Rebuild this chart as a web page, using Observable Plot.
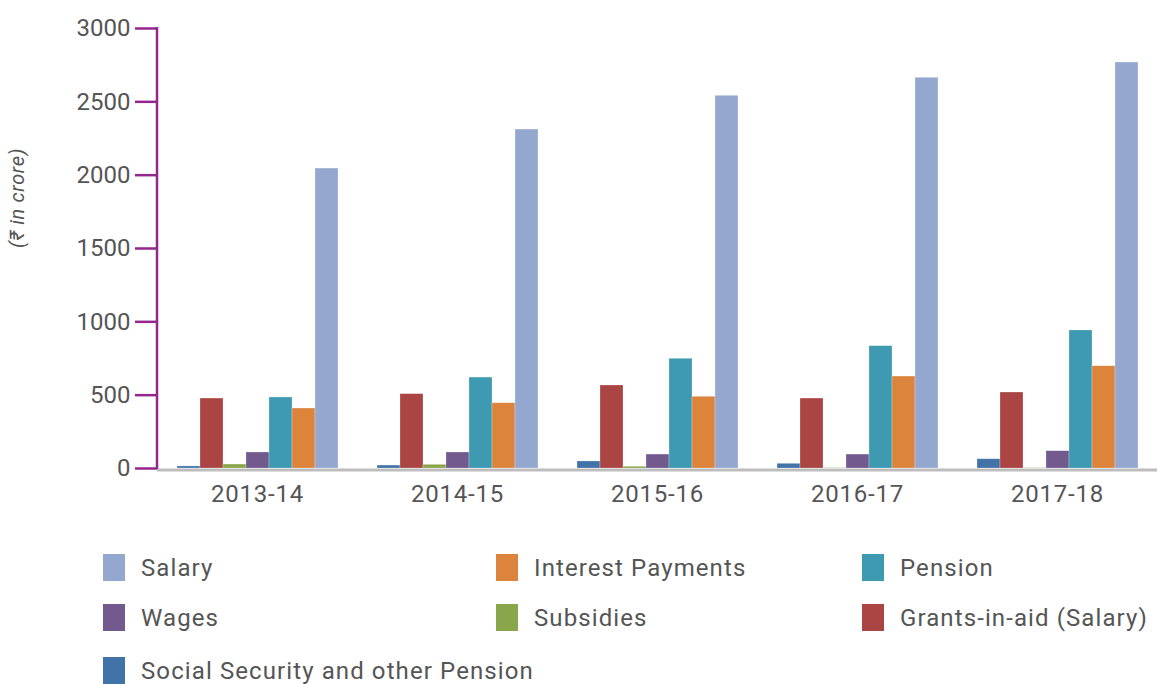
<!DOCTYPE html>
<html>
<head>
<meta charset="utf-8">
<script src="https://cdn.jsdelivr.net/npm/d3@7"></script>
<script src="https://cdn.jsdelivr.net/npm/@observablehq/plot@0.6"></script>
<style>
  body { margin: 0; background: #fff; font-family: Roboto, "Noto Sans", sans-serif; }
  #legend { display: grid; grid-template-columns: 393px 366px auto; row-gap: 23px; padding-left: 103px; margin-top: 34px; }
  .item { display: flex; align-items: center; height: 27px; color: #555; font-size: 24px; letter-spacing: 1.1px; white-space: nowrap; }
  .item.last { margin-top: 3px; }
  .sw { width: 22px; height: 27px; margin-right: 16px; flex: none; }
  svg text { letter-spacing: 0.8px; }
</style>
</head>
<body>
<div id="chart"></div>
<div id="legend"></div>
<script>
const years = ["2013-14", "2014-15", "2015-16", "2016-17", "2017-18"];
const seriesOrder = ["Social Security and other Pension", "Grants-in-aid (Salary)", "Subsidies", "Wages", "Pension", "Interest Payments", "Salary"];
const seriesColors = ["#4273a8", "#ab4543", "#8aa64b", "#725a8f", "#3e9ab1", "#dc843c", "#94a8cf"];
const socialSecurity = [14, 20, 48, 32, 63];
const grantsInAid = [477, 507, 566, 477, 518];
const subsidies = [27, 25, 12, 2, 2];
const wages = [109, 109, 95, 95, 118];
const pension = [484, 620, 748, 834, 941];
const interestPayments = [409, 445, 489, 627, 697];
const salary = [2045, 2311, 2541, 2664, 2768];
const yTicks = [0, 500, 1000, 1500, 2000, 2500, 3000];
const legendOrder = ["Salary", "Interest Payments", "Pension", "Wages", "Subsidies", "Grants-in-aid (Salary)", "Social Security and other Pension"];

const valuesBySeries = {
  "Social Security and other Pension": socialSecurity,
  "Grants-in-aid (Salary)": grantsInAid,
  "Subsidies": subsidies,
  "Wages": wages,
  "Pension": pension,
  "Interest Payments": interestPayments,
  "Salary": salary
};
const rows = [];
years.forEach((year, i) => {
  seriesOrder.forEach(s => rows.push({year, series: s, value: valuesBySeries[s][i]}));
});

const purple = "#93278f";
const plot = Plot.plot({
  width: 1159,
  height: 520,
  marginLeft: 157,
  marginRight: 2,
  marginTop: 28,
  marginBottom: 52,
  style: {fontFamily: "Roboto, 'Noto Sans', sans-serif", fontSize: "24px", color: "#555", background: "#fff"},
  fx: {domain: years, padding: 0, label: null},
  x: {domain: seriesOrder, axis: null, paddingInner: 0, paddingOuter: 0.77},
  y: {domain: [0, 3000]},
  color: {domain: seriesOrder, range: seriesColors},
  marks: [
    Plot.ruleY([0], {stroke: "#bdbdbd", strokeWidth: 3, dy: 1.5}),
    Plot.barY(rows, {fx: "year", x: "series", y: "value", fill: "series", stroke: "#fff", strokeOpacity: 0.4, strokeWidth: 0.6}),
    Plot.axisY({ticks: yTicks, tickFormat: d => String(d), tickSize: 22, tickPadding: 5, stroke: purple, strokeWidth: 2.5, fill: "#555", fontSize: 24, label: null}),
    Plot.axisFx({anchor: "bottom", tickSize: 0, tickPadding: 16, fill: "#555", fontSize: 24, label: null})
  ]
});

const ys = plot.scale("y");
const svg = d3.select(plot.tagName.toLowerCase() === "svg" ? plot : plot.querySelector("svg"));
svg.selectAll("[aria-label='y-axis tick label'] text").style("letter-spacing", "0px");
svg.append("line")
  .attr("x1", 157).attr("x2", 157)
  .attr("y1", ys.apply(3000) - 1).attr("y2", ys.apply(0) + 1)
  .attr("stroke", purple).attr("stroke-width", 2.5);
svg.append("text")
  .attr("transform", `translate(24,198) rotate(-90)`)
  .attr("text-anchor", "middle")
  .attr("fill", "#555")
  .attr("font-size", 20)
  .attr("font-style", "italic")
  .style("letter-spacing", "0.6px")
  .text("(₹ in crore)");

document.getElementById("chart").appendChild(plot);

const legend = document.getElementById("legend");
legendOrder.forEach((name, i) => {
  const div = document.createElement("div");
  div.className = "item" + (i >= 6 ? " last" : "");
  const sw = document.createElement("span");
  sw.className = "sw";
  sw.style.background = seriesColors[seriesOrder.indexOf(name)];
  div.appendChild(sw);
  div.appendChild(document.createTextNode(name));
  legend.appendChild(div);
});
</script>
</body>
</html>
